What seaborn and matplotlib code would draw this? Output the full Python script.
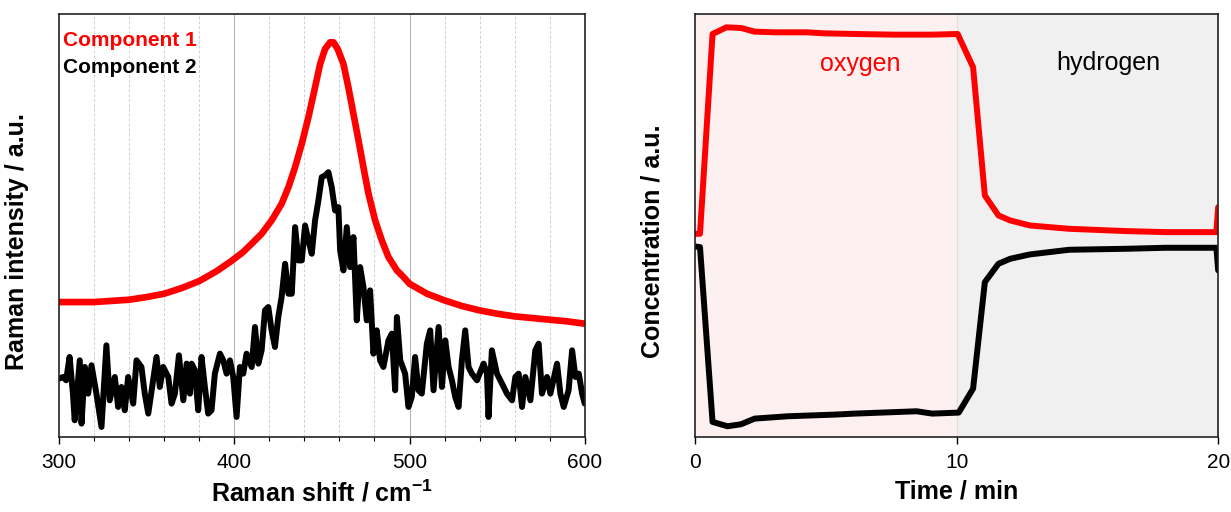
import numpy as np
import pandas as pd
import matplotlib
matplotlib.use("Agg")
import matplotlib.pyplot as plt
from matplotlib.ticker import MultipleLocator
import seaborn as sns

# Raman spectra (left panel)
shift_red = [300, 320, 340, 350, 360, 370, 380, 390, 398, 402, 405, 409.9, 415.6, 421.3, 427.0,
             430.9, 434.7, 438.5, 442.3, 446.1, 449.0, 451.8, 454.7, 456.6, 459.0, 462.3, 465.1,
             468.0, 470.9, 473.7, 476.6, 480.4, 484.2, 488.0, 492.8, 496.6, 500, 510, 520, 530,
             540, 550, 560, 570, 580, 590, 600]
comp1 = [40.6, 40.6, 41.3, 42.1, 43.1, 44.8, 46.9, 49.9, 52.8, 54.4, 55.6, 58.1, 61.1, 65.1, 70.1,
         75.1, 81.1, 88.1, 96.1, 105.1, 112.1, 116.6, 118.6, 118.6, 116.6, 112.1, 105.1,
         97.1, 89.1, 81.1, 73.1, 65.1, 59.1, 54.1, 50.1, 48.1, 46.1, 43.1, 41.1, 39.4,
         38.1, 37.1, 36.3, 35.8, 35.3, 34.8, 34.1]

shift_black = [300, 302.3, 304.0, 306.0, 307.9, 308.9, 311.8, 312.8, 314.7, 316.6, 318.5, 321.3,
               324.2, 327.0, 328.9, 331.8, 333.7, 335.6, 337.5, 339.4, 342.3, 344.2, 347.0, 348.9,
               350.9, 353.7, 355.6, 357.5, 359.4, 362.3, 364.2, 366.1, 368.4, 370.9, 372.8, 374.7,
               375.6, 377.5, 379.4, 381.3, 383.2, 385.1, 387.0, 388.9, 391.8, 393.7, 395.6, 397.5,
               399.4, 401.3, 403.2, 405.1, 407.0, 409.9, 411.8, 413.7, 415.6, 417.5, 419.4, 421.3,
               423.2, 425.1, 427.0, 429.0, 430.9, 432.8, 434.7, 436.6, 438.5, 440.4, 442.3, 444.2,
               446.1, 448.0, 449.9, 451.8, 453.7, 455.6, 457.5, 459.4, 460.4, 462.3, 464.2, 466.1,
               468.0, 469.9, 471.8, 473.7, 475.6, 477.5, 479.4, 481.3, 483.2, 485.1, 488.0, 489.9,
               491.8, 492.8, 494.7, 497.5, 499.4, 501.3, 503.2, 505.1, 507.0, 509.9, 511.8, 513.7,
               516.6, 518.5, 520.4, 522.3, 524.2, 526.1, 528.0, 529.9, 531.8, 533.7, 535.6, 538.5,
               542.3, 544.2, 545.1, 547.0, 549.9, 552.8, 555.6, 558.5, 560.4, 562.3, 564.2, 566.1,
               569.0, 571.8, 573.7, 575.6, 578.5, 580.4, 584.2, 586.1, 588.0, 590.8, 592.8, 594.7,
               596.6, 598.5, 600]
comp2 = [17.6, 18.1, 17.1, 24.1, 13.1, 5.1, 23.1, 4.1, 21.1, 13.1, 21.6, 13.1,
         3.1, 27.6, 11.1, 18.1, 9.1, 15.1, 8.1, 18.1, 10.1, 23.1, 21.1, 13.1,
         7.1, 17.1, 24.1, 15.1, 21.1, 18.1, 10.1, 13.1, 24.6, 11.1, 22.1, 13.1,
         22.1, 20.1, 8.1, 24.1, 15.1, 7.1, 8.1, 19.1, 25.1, 23.1, 19.1, 23.1,
         18.1, 6.1, 21.1, 19.1, 25.1, 21.1, 33.1, 22.1, 26.1, 38.1, 39.1, 32.1,
         27.1, 36.1, 42.1, 52.1, 43.1, 43.1, 63.1, 53.1, 53.1, 63.6, 59.1, 55.1,
         65.1, 71.1, 78.1, 78.6, 79.6, 75.1, 68.1, 69.1, 56.1, 50.1, 63.1, 51.1,
         60.1, 35.1, 51.1, 45.1, 35.1, 44.1, 25.1, 32.1, 23.1, 21.1, 29.1, 31.1,
         14.1, 36.1, 23.1, 19.1, 9.1, 12.1, 24.1, 14.1, 13.1, 28.1, 32.1, 14.1,
         33.1, 15.1, 29.1, 21.1, 17.1, 12.1, 9.1, 23.1, 32.1, 21.1, 19.1, 17.1,
         22.1, 19.1, 6.1, 26.1, 19.1, 16.1, 13.1, 11.1, 18.1, 19.1, 9.1, 18.1,
         11.1, 26.1, 28.1, 13.1, 18.1, 13.1, 22.1, 13.1, 9.1, 14.1, 26.1, 18.1,
         19.1, 13.1, 10.1]

# Concentration vs time (right panel)
time_ox = [0, 0.19, 0.67, 1.2, 1.76, 2.28, 3.1, 4.3, 4.9, 6.1, 7.6, 9.07, 10.04, 10.63,
           11.08, 11.6, 12.05, 12.8, 14.3, 16.5, 18.0, 19.93, 20]
oxygen = [61.1, 61.1, 121.1, 123.1, 122.9, 121.8, 121.6, 121.6, 121.3, 121.1, 120.9, 120.9,
          121.1, 111.1, 72.6, 66.6, 65.1, 63.6, 62.6, 61.9, 61.6, 61.6, 69.1]
time_h = [0, 0.19, 0.67, 1.24, 1.76, 2.28, 3.55, 5.34, 6.1, 8.47, 9.07, 10.08, 10.63,
          11.08, 11.6, 12.05, 12.8, 14.3, 16.5, 18.0, 19.5, 19.93, 20]
hydrogen = [57.3, 57.1, 4.6, 3.3, 3.9, 5.6, 6.3, 6.8, 7.1, 7.8, 7.1, 7.4, 14.6,
            46.6, 52.1, 53.6, 54.9, 56.3, 56.6, 56.9, 56.9, 56.9, 50.1]

sns.set_style("white")
plt.rcParams['font.family'] = ['Liberation Sans', 'DejaVu Sans']
plt.rcParams['mathtext.fontset'] = 'custom'
plt.rcParams['mathtext.bf'] = 'Liberation Sans:bold'
plt.rcParams['mathtext.rm'] = 'Liberation Sans'
plt.rcParams['text.color'] = 'black'
plt.rcParams['axes.labelcolor'] = 'black'
plt.rcParams['xtick.color'] = 'black'

fig = plt.figure(figsize=(12.31, 5.12), dpi=100)
ax1 = fig.add_axes([0.048, 0.146, 0.427, 0.826])
ax2 = fig.add_axes([0.5646, 0.146, 0.425, 0.826])

# ---- left panel
for x in range(320, 600, 20):
    if x % 100 == 0:
        ax1.axvline(x, color='#b8b8b8', lw=0.8, zorder=0)
    else:
        ax1.axvline(x, color='#d0d0d0', lw=0.7, ls=(0, (3, 2)), zorder=0)

df_red = pd.DataFrame({'shift': shift_red, 'val': comp1})
df_blk = pd.DataFrame({'shift': shift_black, 'val': comp2})
sns.lineplot(data=df_blk, x='shift', y='val', ax=ax1, color='black', lw=4.3, sort=False)
sns.lineplot(data=df_red, x='shift', y='val', ax=ax1, color='#ff0000', lw=4.8, sort=False)

ax1.set_xlim(300, 600)
ax1.set_ylim(0, 127)
ax1.set_yticks([])
ax1.xaxis.set_major_locator(MultipleLocator(100))
ax1.xaxis.set_minor_locator(MultipleLocator(20))
ax1.tick_params(axis='x', which='major', direction='out', length=5, width=1,
                labelsize=15, bottom=True, pad=6)
ax1.tick_params(axis='x', which='minor', direction='out', length=3, width=0.8, bottom=True)
ax1.set_xlabel(r'Raman shift / cm$^{\mathbf{-1}}$', fontsize=18, fontweight='bold', labelpad=6)
ax1.set_ylabel('Raman intensity / a.u.', fontsize=18, fontweight='bold')
ax1.yaxis.set_label_coords(-0.058, 0.463)
ax1.text(302, 119, 'Component 1', color='#ff0000', fontsize=15, fontweight='bold', va='center')
ax1.text(302, 111, 'Component 2', color='black', fontsize=15, fontweight='bold', va='center')

# ---- right panel
ax2.axvspan(0, 10, color='#fdf0f0', lw=0, zorder=0)
ax2.axvspan(10, 20, color='#f0f0f0', lw=0, zorder=0)
ax2.axvline(10, color='#e8dada', lw=0.8, zorder=0)

df_ox = pd.DataFrame({'t': time_ox, 'c': oxygen})
df_h = pd.DataFrame({'t': time_h, 'c': hydrogen})
sns.lineplot(data=df_ox, x='t', y='c', ax=ax2, color='#ff0000', lw=4.3, sort=False)
sns.lineplot(data=df_h, x='t', y='c', ax=ax2, color='black', lw=4.3, sort=False)

ax2.set_xlim(0, 20)
ax2.set_ylim(0, 127)
ax2.set_yticks([])
ax2.set_xticks([0, 10, 20])
ax2.tick_params(axis='x', direction='out', length=5, width=1, labelsize=15,
                bottom=True, pad=6)
ax2.set_xlabel('Time / min', fontsize=18, fontweight='bold', labelpad=6)
ax2.set_ylabel('Concentration / a.u.', fontsize=18, fontweight='bold')
ax2.yaxis.set_label_coords(-0.058, 0.463)
ax2.text(6.3, 112, 'oxygen', color='#ff0000', fontsize=18, ha='center', va='center')
ax2.text(15.8, 112.5, 'hydrogen', color='black', fontsize=18, ha='center', va='center')

for ax in (ax1, ax2):
    for sp in ax.spines.values():
        sp.set_visible(True)
        sp.set_color('#222222')
        sp.set_linewidth(1.2)

fig.savefig('out.png', dpi=100)
